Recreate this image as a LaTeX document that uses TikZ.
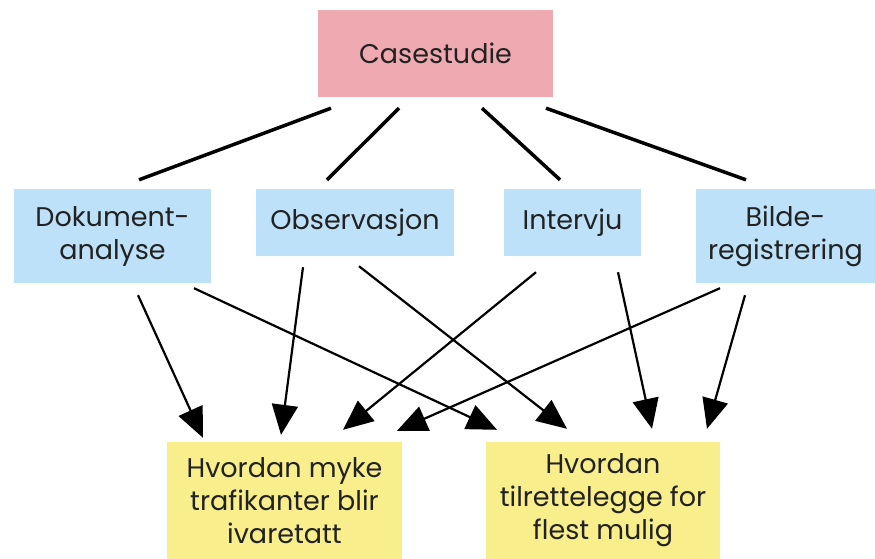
\documentclass[tikz,border=0pt]{standalone}
\usepackage{fontspec}
\setmainfont{Poppins}
\usepackage{tikz}
\usetikzlibrary{arrows.meta}
\definecolor{casepink}{HTML}{EEA9B1}
\definecolor{metodeblue}{HTML}{BDE1F8}
\definecolor{maalyellow}{HTML}{F8EE8C}
\definecolor{tekstgray}{HTML}{222222}
\tikzset{>/.tip={Triangle[length=30pt,width=26pt]},
  boks/.style={inner sep=0pt, align=center, text=tekstgray,
    font=\fontsize{27}{33}\selectfont},
  linje/.style={line width=3.5pt},
  pil/.style={->, line width=2.2pt}}

\begin{document}
\begin{tikzpicture}[x=1pt,y=-1pt]
\useasboundingbox[fill=white] (0,0) rectangle (875,559);
\node[boks, fill=casepink, minimum width=235pt, minimum height=87pt] (cs) at (435.5,53.5) {Casestudie};
\node[boks, fill=metodeblue, minimum width=197pt, minimum height=94pt] (dok) at (112.5,236) {Dokument-\\analyse};
\node[boks, fill=metodeblue, minimum width=198pt, minimum height=67pt] (obs) at (355,222.5) {Observasjon};
\node[boks, fill=metodeblue, minimum width=137pt, minimum height=67pt] (int) at (572.5,222.5) {Intervju};
\node[boks, fill=metodeblue, minimum width=179pt, minimum height=94pt] (bil) at (785.5,236) {Bilde-\\registrering};
\node[boks, fill=maalyellow, minimum width=235pt, minimum height=117pt] (myk) at (284.5,500.5) {Hvordan myke\\trafikanter blir\\ivaretatt};
\node[boks, fill=maalyellow, minimum width=234pt, minimum height=117pt] (fle) at (603,500.5) {Hvordan\\tilrettelegge for\\flest mulig};

% casestudie til metodene
\draw[linje] ([shift={(-104.5pt,-11pt)}]cs.south) to ([shift={(26.5pt,9pt)}]dok.north);
\draw[linje] ([shift={(-36.5pt,-11pt)}]cs.south) to ([shift={(-28pt,9pt)}]obs.north);
\draw[linje] ([shift={(46.5pt,-11pt)}]cs.south) to ([shift={(-12.5pt,9pt)}]int.north);
\draw[linje] ([shift={(110.5pt,-11pt)}]cs.south) to ([shift={(-39.5pt,9pt)}]bil.north);

% metodene til problemstillingene
\draw[pil] ([shift={(25.5pt,-12pt)}]dok.south) to ([shift={(-81.5pt,4pt)}]myk.north);
\draw[pil] ([shift={(81.5pt,-5pt)}]dok.south) to ([shift={(-106pt,12pt)}]fle.north);
\draw[pil] ([shift={(-52pt,-11pt)}]obs.south) to ([shift={(-3.5pt,7pt)}]myk.north);
\draw[pil] ([shift={(4pt,-10pt)}]obs.south) to ([shift={(-36pt,13pt)}]fle.north);
\draw[pil] ([shift={(-36.5pt,-16pt)}]int.south) to ([shift={(58.5pt,12pt)}]myk.north);
\draw[pil] ([shift={(45.5pt,-16pt)}]int.south) to ([shift={(49pt,13pt)}]fle.north);
\draw[pil] ([shift={(-65.5pt,-5pt)}]bil.south) to ([shift={(112.5pt,11pt)}]myk.north);
\draw[pil] ([shift={(-40.5pt,-12pt)}]bil.south) to ([shift={(104pt,13pt)}]fle.north);
\end{tikzpicture}
\end{document}
